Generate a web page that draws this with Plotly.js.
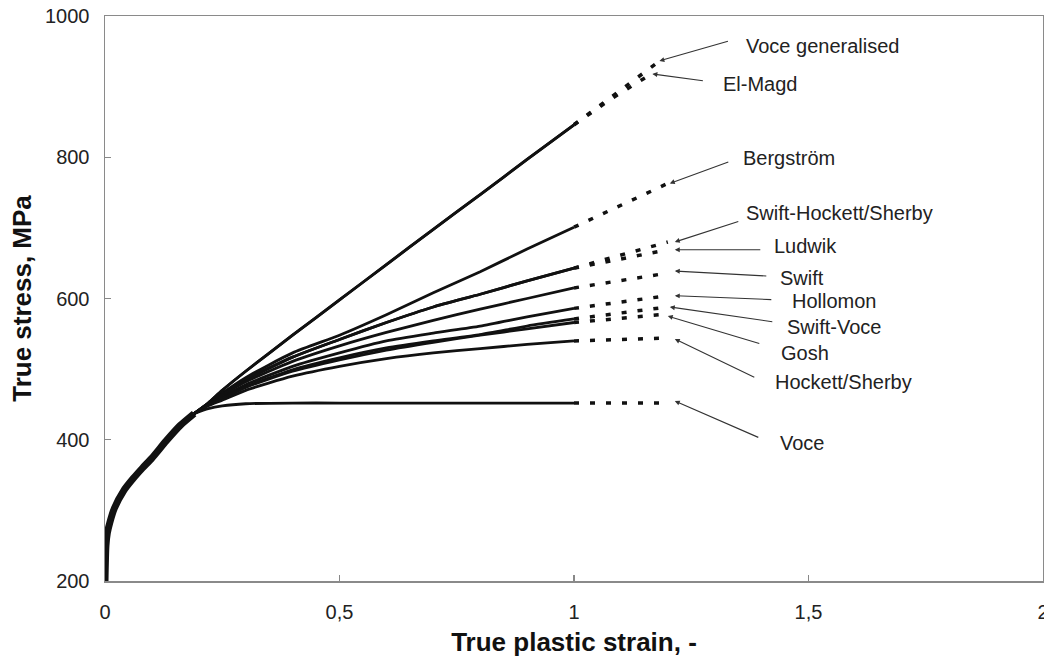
<!DOCTYPE html>
<html><head><meta charset="utf-8">
<script src="https://cdn.plot.ly/plotly-3.0.1.min.js"></script>
<style>html,body{margin:0;padding:0;background:#fff}</style>
</head><body><div id="chart" style="width:1044px;height:661px"></div>
<script>
// ---- data ----
const trunkStrain = [0, 0.002, 0.005, 0.01, 0.02, 0.04, 0.06, 0.08, 0.1, 0.13, 0.16, 0.19];
const trunkStress = [200, 250, 268, 282, 303, 328, 345, 360, 374, 398, 420, 437];
const branchStrain = [0.22, 0.25, 0.3, 0.4, 0.5, 0.6, 0.7, 0.8, 0.9, 1.0];

const modelNames = ["Voce generalised", "El-Magd", "Bergström", "Swift-Hockett/Sherby", "Ludwik",
  "Swift", "Hollomon", "Swift-Voce", "Gosh", "Hockett/Sherby", "Voce"];

const stressVoceGen   = [452, 470, 497, 548, 598, 648, 698, 747, 797, 846];
const stressElMagd    = [452, 470, 497, 548, 598, 648, 698, 747, 797, 846];
const stressBergstrom = [451, 466, 488, 523, 548, 577, 608, 638, 670, 701];
const stressSwiftHS   = [451, 465, 485, 517, 542, 566, 588, 606, 625, 643];
const stressLudwik    = [451, 465, 485, 517, 542, 566, 588, 606, 625, 643];
const stressSwift     = [450, 463, 482, 511, 533, 552, 569, 585, 600, 615];
const stressHollomon  = [450, 461, 478, 504, 523, 540, 551, 561, 574, 586];
const stressSwiftVoce = [449, 459, 475, 499, 516, 530, 540, 549, 561, 571];
const stressGosh      = [449, 458, 474, 497, 513, 527, 538, 548, 557, 566];
const stressHockettS  = [448, 456, 470, 490, 504, 515, 523, 529, 535, 540];
const stressVoce      = [444, 448, 451, 452, 452, 452, 452, 452, 452, 452];

const extStrainVoceGen = [1.0, 1.09, 1.18];
const extStrainElMagd  = [1.0, 1.08, 1.165];
const extStrainStd     = [1.0, 1.1, 1.2];
const extStressVoceGen   = [846, 890, 935];
const extStressElMagd    = [846, 883, 918];
const extStressBergstrom = [701, 732, 763];
const extStressSwiftHS   = [643, 662, 680];
const extStressLudwik    = [643, 656, 669];
const extStressSwift     = [615, 626, 636];
const extStressHollomon  = [586, 595, 604];
const extStressSwiftVoce = [571, 580, 588];
const extStressGosh      = [566, 572, 578];
const extStressHockettS  = [540, 542, 544];
const extStressVoce      = [452, 452, 452];

const xTickVals = [0, 0.5, 1, 1.5, 2];
const xTickText = ["0", "0,5", "1", "1,5", "2"];

// ---- build traces ----
const solid = [stressVoceGen, stressElMagd, stressBergstrom, stressSwiftHS, stressLudwik, stressSwift,
  stressHollomon, stressSwiftVoce, stressGosh, stressHockettS, stressVoce];
const extX = [extStrainVoceGen, extStrainElMagd, extStrainStd, extStrainStd, extStrainStd, extStrainStd,
  extStrainStd, extStrainStd, extStrainStd, extStrainStd, extStrainStd];
const extY = [extStressVoceGen, extStressElMagd, extStressBergstrom, extStressSwiftHS, extStressLudwik,
  extStressSwift, extStressHollomon, extStressSwiftVoce, extStressGosh, extStressHockettS, extStressVoce];

const traces = [];
modelNames.forEach((name, i) => {
  traces.push({
    x: trunkStrain.slice(-1).concat(branchStrain),
    y: trunkStress.slice(-1).concat(solid[i]),
    mode: 'lines', line: {color: '#111', width: 2.8, shape: 'spline', smoothing: 0.6}, name: name, hoverinfo: 'name'
  });
  traces.push({
    x: extX[i], y: extY[i], mode: 'lines',
    line: {color: '#111', width: 3.5, dash: '5px,11px'}, name: name, hoverinfo: 'name'
  });
});
traces.push({x: trunkStrain, y: trunkStress, mode: 'lines',
  line: {color: '#111', width: 7, shape: 'spline', smoothing: 0.6}, name: 'all'});

// label / arrow layout: [tip dx, tip dy, arrow ax, arrow ay, label dx, label dy] in screen px from curve end
const labelGeom = [
  [1, -1, 70, -20, 86, -16],
  [1, 0, 52, 7, 70, 10],
  [2, 0, 60, -22, 73, -25],
  [7, 0, 65, -21, 76, -29],
  [7, 0, 87, 0, 104, -4],
  [7, -2, 93, 5, 110, 5],
  [7, 0, 98, 4, 122, 5],
  [2, 0, 104, 15, 117, 20],
  [0, 2, 93, 28, 111, 39],
  [7, 1, 81, 39, 105, 44],
  [7, -2, 85, 37, 110, 40]
];
const font = 'Liberation Sans, Arial, sans-serif';
const annotations = [];
modelNames.forEach((name, i) => {
  const ex = extX[i][extX[i].length - 1], ey = extY[i][extY[i].length - 1];
  const g = labelGeom[i];
  annotations.push({x: ex, y: ey, xref: 'x', yref: 'y', text: '', showarrow: true,
    xshift: g[0], yshift: -g[1], ax: g[2], ay: g[3], arrowhead: 2, arrowsize: 0.9,
    arrowwidth: 1.1, arrowcolor: '#333', standoff: 0, startstandoff: 0});
  annotations.push({x: ex, y: ey, xref: 'x', yref: 'y', text: name, showarrow: false,
    xshift: g[4], yshift: -g[5], xanchor: 'left', yanchor: 'middle',
    font: {family: font, size: 20, color: '#222'}});
});

const layout = {
  width: 1044, height: 661,
  margin: {l: 105, r: 1, t: 16, b: 80},
  paper_bgcolor: '#fff', plot_bgcolor: '#fff',
  showlegend: false,
  font: {family: font, size: 20, color: '#222'},
  xaxis: {
    range: [0, 2], tickvals: xTickVals, ticktext: xTickText,
    ticks: 'inside', ticklen: 6, tickcolor: '#888', tickwidth: 1.2,
    showline: true, linecolor: '#8a8a8a', linewidth: 1.5, mirror: true,
    showgrid: false, zeroline: false, automargin: false,
    ticklabelstandoff: 12, ticklabeloverflow: 'allow',
    tickfont: {family: font, size: 20, color: '#222'},
    title: {text: '<b>True plastic strain, -</b>', font: {family: font, size: 26, color: '#111'}, standoff: 11}
  },
  yaxis: {
    range: [200, 1000], dtick: 200, tick0: 200,
    ticks: 'inside', ticklen: 6, tickcolor: '#888', tickwidth: 1.2,
    showline: true, linecolor: '#8a8a8a', linewidth: 1.5, mirror: true,
    showgrid: false, zeroline: false, automargin: false,
    ticklabelstandoff: 10,
    tickfont: {family: font, size: 20, color: '#222'},
    title: {text: '<b>True stress, MPa</b>', font: {family: font, size: 26, color: '#111'}, standoff: 6}
  },
  annotations: annotations
};
Plotly.newPlot('chart', traces, layout, {displayModeBar: false, staticPlot: true});
</script>
</body></html>
